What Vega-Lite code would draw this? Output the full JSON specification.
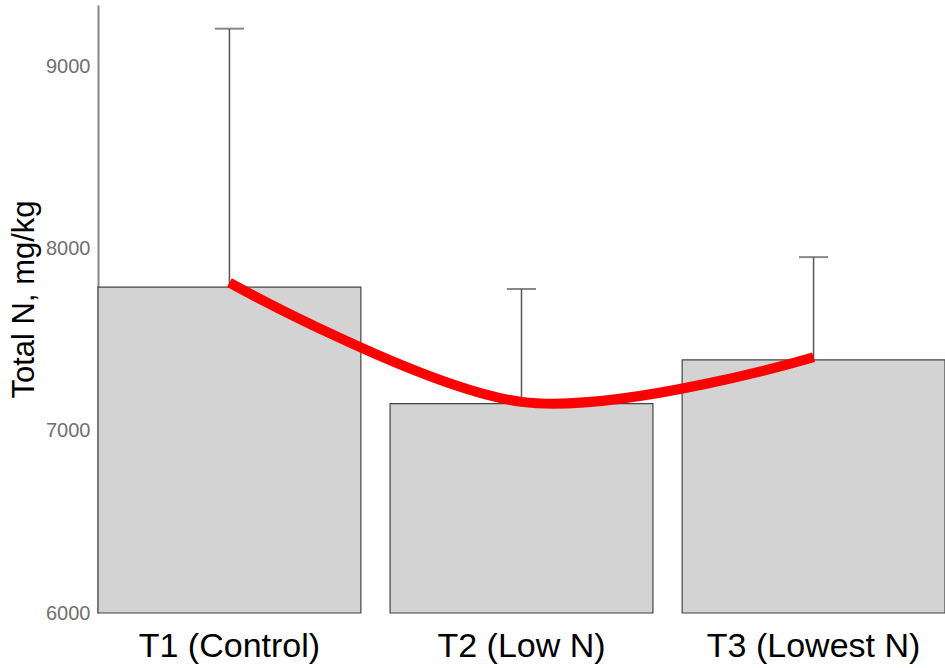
{
  "$schema": "https://vega.github.io/schema/vega-lite/v6.json",
  "autosize": {"type": "none"},
  "padding": {"left": 98, "top": 5, "right": 0, "bottom": 55},
  "width": 847,
  "height": 608,
  "background": "white",
  "config": {"view": {"stroke": null}, "font": "Liberation Sans"},
  "data": {"values": [
    {"treatment": "T1 (Control)", "mean": 7790, "base": 6000, "upper": 9210, "curve": 7815},
    {"treatment": "T2 (Low N)", "mean": 7150, "base": 6000, "upper": 7780, "curve": 7160},
    {"treatment": "T3 (Lowest N)", "mean": 7390, "base": 6000, "upper": 7955, "curve": 7405}
  ]},
  "encoding": {
    "x": {
      "field": "treatment", "type": "nominal", "sort": null,
      "scale": {"paddingInner": 0.1, "paddingOuter": 0},
      "axis": {"title": null, "labelAngle": 0, "labelFontSize": 34, "labelColor": "black", "labelLimit": 0, "domain": false, "ticks": false, "labelPadding": 43, "labelBaseline": "alphabetic", "labelFont": "Liberation Sans"}
    }
  },
  "layer": [
    {
      "mark": {"type": "bar", "color": "#d3d3d3", "stroke": "#444444", "strokeWidth": 1.2},
      "encoding": {
        "y": {
          "field": "mean", "type": "quantitative",
          "scale": {"domain": [6000, 9340], "nice": false, "zero": false},
          "axis": {
            "title": "Total N, mg/kg", "titleFontSize": 31, "titleFontWeight": "normal", "titleColor": "black",
            "titleX": -89, "titleY": 294, "titleAngle": -90, "titleBaseline": "top",
            "values": [6000, 7000, 8000, 9000], "format": "d", "grid": false, "ticks": false,
            "domainColor": "#888888", "domainWidth": 2,
            "labelColor": "#707070", "labelFontSize": 20, "labelFont": "Liberation Sans", "labelPadding": 8
          }
        },
        "y2": {"field": "base"}
      }
    },
    {
      "mark": {"type": "rule", "color": "#555555", "strokeWidth": 1.5},
      "encoding": {
        "y": {"field": "mean", "type": "quantitative"},
        "y2": {"field": "upper"}
      }
    },
    {
      "mark": {"type": "tick", "color": "#555555", "thickness": 2, "size": 29, "orient": "horizontal"},
      "encoding": {
        "y": {"field": "upper", "type": "quantitative"}
      }
    },
    {
      "mark": {"type": "line", "color": "#ff0000", "strokeWidth": 10, "interpolate": "cardinal", "strokeCap": "butt"},
      "encoding": {
        "y": {"field": "curve", "type": "quantitative"}
      }
    }
  ]
}
